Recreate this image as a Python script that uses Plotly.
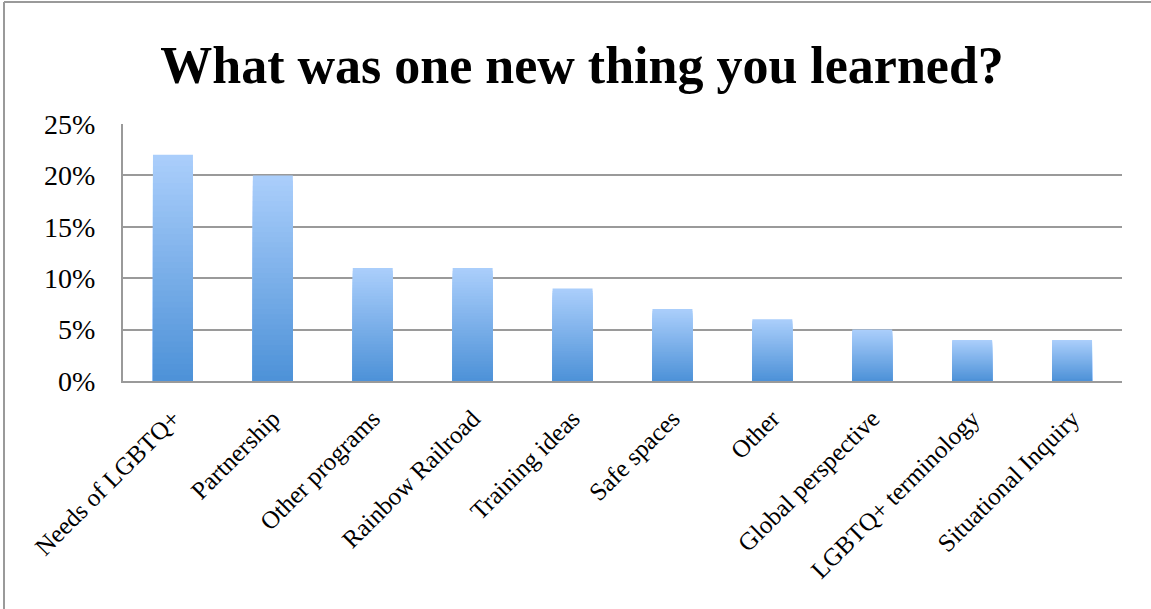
import plotly.graph_objects as go

categories = ["Needs of LGBTQ+", "Partnership", "Other programs", "Rainbow Railroad",
              "Training ideas", "Safe spaces", "Other", "Global perspective",
              "LGBTQ+ terminology", "Situational Inquiry"]
values = [0.22, 0.20, 0.11, 0.11, 0.09, 0.07, 0.06, 0.05, 0.04, 0.04]
y_ticks = [0, 0.05, 0.10, 0.15, 0.20, 0.25]
y_tick_labels = ["0%", "5%", "10%", "15%", "20%", "25%"]

top_rgb = (170, 206, 251)
bot_rgb = (78, 146, 216)
N = 40

fig = go.Figure()
for k in range(N):
    t = k / (N - 1)
    c = tuple(round(top_rgb[i] + (bot_rgb[i] - top_rgb[i]) * t) for i in range(3))
    frac = (N - k) / N
    fig.add_trace(go.Bar(
        x=categories,
        y=[v * frac for v in values],
        marker=dict(color="rgb(%d,%d,%d)" % c, line=dict(width=0)),
        showlegend=False,
        hoverinfo="skip" if k else "x+y",
    ))

fig.update_layout(
    width=1151, height=609,
    margin=dict(l=123, r=29, t=124, b=228),
    paper_bgcolor="white", plot_bgcolor="white",
    barmode="overlay", bargap=0.6,
    title=dict(text="<b>What was one new thing you learned?</b>",
               x=0.5057, xref="container", xanchor="center",
               y=0.893, yanchor="middle",
               font=dict(family="Liberation Serif", size=52, color="black")),
    font=dict(family="Liberation Serif", size=25, color="black"),
    xaxis=dict(tickangle=-45, showgrid=False, showline=True, linecolor="#9a9a9a",
               linewidth=2, ticks="", tickfont=dict(size=25), mirror=False,
               ticklabelstandoff=11),
    yaxis=dict(range=[0, 0.25], tickvals=y_ticks, ticktext=y_tick_labels,
               showgrid=True, gridcolor="#9a9a9a", gridwidth=2, showline=True,
               linecolor="#9a9a9a", linewidth=2, ticks="", zeroline=False,
               tickfont=dict(size=28), ticklabelstandoff=20),
    shapes=[
        dict(type="line", xref="paper", yref="paper", x0=-119/999, x1=1.03,
             y0=1 + 122/257, y1=1 + 122/257, line=dict(color="#9a9a9a", width=2)),
        dict(type="line", xref="paper", yref="paper", x0=-119/999, x1=-119/999,
             y0=1 + 122/257, y1=-228/257, line=dict(color="#9a9a9a", width=2)),
    ],
)

fig.write_html("out.html")
